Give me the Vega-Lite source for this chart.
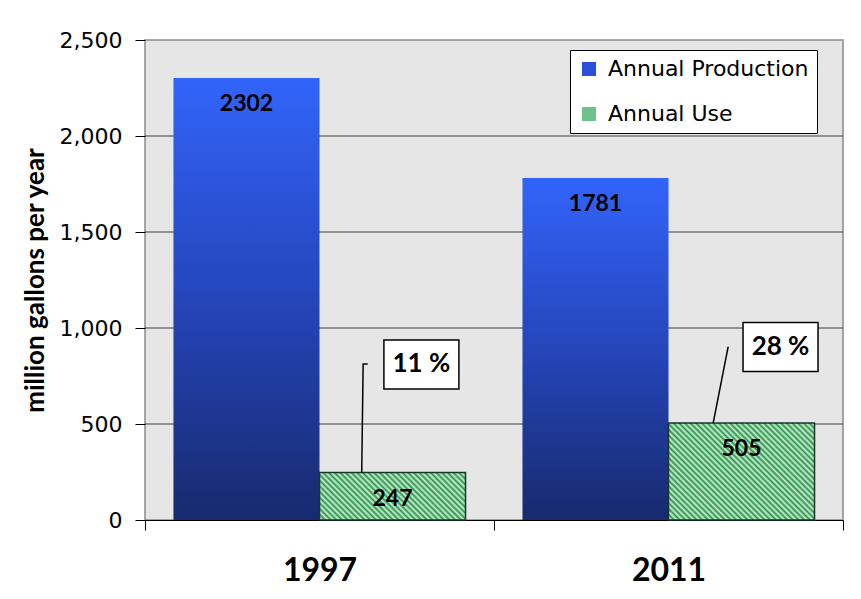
{
  "$schema": "https://vega.github.io/schema/vega-lite/v6.json",
  "width": 698,
  "height": 480,
  "autosize": "none",
  "padding": {"left": 145, "top": 40, "right": 18, "bottom": 79},
  "background": "white",
  "config": {
    "view": {"fill": "#e6e6e6", "stroke": "#8c8c8c", "strokeWidth": 1.5},
    "axisY": {"labelFont": "DejaVu Sans", "labelFontSize": 22, "labelColor": "black", "labelPadding": 13, "tickColor": "black", "tickSize": 10, "domain": false, "grid": false, "titleFont": "Lato", "titleFontSize": 26, "titleFontWeight": "bold", "titleColor": "black", "titlePadding": 11}
  },
  "datasets": {
    "bars": [
      {"year": "1997", "series": "Annual Production", "value": 2302},
      {"year": "1997", "series": "Annual Use", "value": 247},
      {"year": "2011", "series": "Annual Production", "value": 1781},
      {"year": "2011", "series": "Annual Use", "value": 505}
    ],
    "gridlines": [
      {"value": 500}, {"value": 1000}, {"value": 1500}, {"value": 2000}
    ],
    "ann": [
      {"ax": 0.792, "value": 810, "label": "11 %"},
      {"ax": 1.821, "value": 901, "label": "28 %"}
    ],
    "lead": [
      {"id": "a", "k": 0, "ax": 0.621, "value": 247},
      {"id": "a", "k": 1, "ax": 0.625, "value": 812},
      {"id": "a", "k": 2, "ax": 0.638, "value": 812},
      {"id": "b", "k": 0, "ax": 1.628, "value": 505},
      {"id": "b", "k": 1, "ax": 1.671, "value": 903}
    ]
  },
  "layer": [
    {
      "data": {"name": "gridlines"},
      "mark": {"type": "rule", "color": "#3a3a3a", "strokeWidth": 1},
      "encoding": {
        "x": {"datum": 0, "type": "quantitative", "scale": {"domain": [0, 2], "nice": false, "zero": false}, "axis": null},
        "x2": {"datum": 2},
        "y": {"field": "value", "type": "quantitative", "title": "million gallons per year",
          "scale": {"domain": [0, 2500], "nice": false},
          "axis": {"values": [0, 500, 1000, 1500, 2000, 2500], "format": ",d"}}
      }
    },
    {
      "data": {"name": "bars"},
      "encoding": {
        "x": {"field": "year", "type": "nominal", "title": null,
          "scale": {"paddingInner": 0, "paddingOuter": 0},
          "axis": {"labelFont": "Lato", "labelFontSize": 32, "labelFontWeight": "bold", "labelColor": "black", "labelAngle": 0, "labelPadding": 40, "labelBaseline": "middle", "tickBand": "extent", "tickSize": 10, "tickColor": "black", "domainColor": "black", "domainWidth": 1, "grid": false}},
        "xOffset": {"field": "series", "type": "nominal", "scale": {"domain": ["Annual Production", "Annual Use"], "paddingInner": 0, "paddingOuter": 0.195}},
        "y": {"field": "value", "type": "quantitative", "title": "million gallons per year",
          "scale": {"domain": [0, 2500], "nice": false},
          "axis": {"values": [0, 500, 1000, 1500, 2000, 2500], "format": ",d"}}
      },
      "layer": [
        {
          "mark": {"type": "bar"},
          "encoding": {
            "fill": {
              "condition": [
                {"test": "datum.series === 'Annual Production'", "value": {"gradient": "linear", "x1": 0, "y1": 0, "x2": 0, "y2": 1, "stops": [{"offset": 0, "color": "#3264fa"}, {"offset": 0.5, "color": "#2545ba"}, {"offset": 1, "color": "#172a6e"}]}},
                {"test": "datum.year === '1997'", "value": {"gradient": "linear", "x1": 0, "y1": 1, "x2": 1.578, "y2": 0.488, "stops": [
{"offset":0,"color":"#2e8b57"},{"offset":0.0111,"color":"#c8f8c8"},{"offset":0.0222,"color":"#2e8b57"},{"offset":0.0333,"color":"#c8f8c8"},{"offset":0.0444,"color":"#2e8b57"},{"offset":0.0556,"color":"#c8f8c8"},{"offset":0.0667,"color":"#2e8b57"},{"offset":0.0778,"color":"#c8f8c8"},{"offset":0.0889,"color":"#2e8b57"},{"offset":0.1,"color":"#c8f8c8"},
{"offset":0.1111,"color":"#2e8b57"},{"offset":0.1222,"color":"#c8f8c8"},{"offset":0.1333,"color":"#2e8b57"},{"offset":0.1444,"color":"#c8f8c8"},{"offset":0.1556,"color":"#2e8b57"},{"offset":0.1667,"color":"#c8f8c8"},{"offset":0.1778,"color":"#2e8b57"},{"offset":0.1889,"color":"#c8f8c8"},{"offset":0.2,"color":"#2e8b57"},{"offset":0.2111,"color":"#c8f8c8"},
{"offset":0.2222,"color":"#2e8b57"},{"offset":0.2333,"color":"#c8f8c8"},{"offset":0.2444,"color":"#2e8b57"},{"offset":0.2556,"color":"#c8f8c8"},{"offset":0.2667,"color":"#2e8b57"},{"offset":0.2778,"color":"#c8f8c8"},{"offset":0.2889,"color":"#2e8b57"},{"offset":0.3,"color":"#c8f8c8"},{"offset":0.3111,"color":"#2e8b57"},{"offset":0.3222,"color":"#c8f8c8"},
{"offset":0.3333,"color":"#2e8b57"},{"offset":0.3444,"color":"#c8f8c8"},{"offset":0.3556,"color":"#2e8b57"},{"offset":0.3667,"color":"#c8f8c8"},{"offset":0.3778,"color":"#2e8b57"},{"offset":0.3889,"color":"#c8f8c8"},{"offset":0.4,"color":"#2e8b57"},{"offset":0.4111,"color":"#c8f8c8"},{"offset":0.4222,"color":"#2e8b57"},{"offset":0.4333,"color":"#c8f8c8"},
{"offset":0.4444,"color":"#2e8b57"},{"offset":0.4556,"color":"#c8f8c8"},{"offset":0.4667,"color":"#2e8b57"},{"offset":0.4778,"color":"#c8f8c8"},{"offset":0.4889,"color":"#2e8b57"},{"offset":0.5,"color":"#c8f8c8"},{"offset":0.5111,"color":"#2e8b57"},{"offset":0.5222,"color":"#c8f8c8"},{"offset":0.5333,"color":"#2e8b57"},{"offset":0.5444,"color":"#c8f8c8"},
{"offset":0.5556,"color":"#2e8b57"},{"offset":0.5667,"color":"#c8f8c8"},{"offset":0.5778,"color":"#2e8b57"},{"offset":0.5889,"color":"#c8f8c8"},{"offset":0.6,"color":"#2e8b57"},{"offset":0.6111,"color":"#c8f8c8"},{"offset":0.6222,"color":"#2e8b57"},{"offset":0.6333,"color":"#c8f8c8"},{"offset":0.6444,"color":"#2e8b57"},{"offset":0.6556,"color":"#c8f8c8"},
{"offset":0.6667,"color":"#2e8b57"},{"offset":0.6778,"color":"#c8f8c8"},{"offset":0.6889,"color":"#2e8b57"},{"offset":0.7,"color":"#c8f8c8"},{"offset":0.7111,"color":"#2e8b57"},{"offset":0.7222,"color":"#c8f8c8"},{"offset":0.7333,"color":"#2e8b57"},{"offset":0.7444,"color":"#c8f8c8"},{"offset":0.7556,"color":"#2e8b57"},{"offset":0.7667,"color":"#c8f8c8"},
{"offset":0.7778,"color":"#2e8b57"},{"offset":0.7889,"color":"#c8f8c8"},{"offset":0.8,"color":"#2e8b57"}
                ]}}
              ],
              "value": {"gradient": "linear", "x1": 0, "y1": 1, "x2": 1.21, "y2": 0.196, "stops": [
{"offset":0,"color":"#2e8b57"},{"offset":0.0111,"color":"#c8f8c8"},{"offset":0.0222,"color":"#2e8b57"},{"offset":0.0333,"color":"#c8f8c8"},{"offset":0.0444,"color":"#2e8b57"},{"offset":0.0556,"color":"#c8f8c8"},{"offset":0.0667,"color":"#2e8b57"},{"offset":0.0778,"color":"#c8f8c8"},{"offset":0.0889,"color":"#2e8b57"},{"offset":0.1,"color":"#c8f8c8"},
{"offset":0.1111,"color":"#2e8b57"},{"offset":0.1222,"color":"#c8f8c8"},{"offset":0.1333,"color":"#2e8b57"},{"offset":0.1444,"color":"#c8f8c8"},{"offset":0.1556,"color":"#2e8b57"},{"offset":0.1667,"color":"#c8f8c8"},{"offset":0.1778,"color":"#2e8b57"},{"offset":0.1889,"color":"#c8f8c8"},{"offset":0.2,"color":"#2e8b57"},{"offset":0.2111,"color":"#c8f8c8"},
{"offset":0.2222,"color":"#2e8b57"},{"offset":0.2333,"color":"#c8f8c8"},{"offset":0.2444,"color":"#2e8b57"},{"offset":0.2556,"color":"#c8f8c8"},{"offset":0.2667,"color":"#2e8b57"},{"offset":0.2778,"color":"#c8f8c8"},{"offset":0.2889,"color":"#2e8b57"},{"offset":0.3,"color":"#c8f8c8"},{"offset":0.3111,"color":"#2e8b57"},{"offset":0.3222,"color":"#c8f8c8"},
{"offset":0.3333,"color":"#2e8b57"},{"offset":0.3444,"color":"#c8f8c8"},{"offset":0.3556,"color":"#2e8b57"},{"offset":0.3667,"color":"#c8f8c8"},{"offset":0.3778,"color":"#2e8b57"},{"offset":0.3889,"color":"#c8f8c8"},{"offset":0.4,"color":"#2e8b57"},{"offset":0.4111,"color":"#c8f8c8"},{"offset":0.4222,"color":"#2e8b57"},{"offset":0.4333,"color":"#c8f8c8"},
{"offset":0.4444,"color":"#2e8b57"},{"offset":0.4556,"color":"#c8f8c8"},{"offset":0.4667,"color":"#2e8b57"},{"offset":0.4778,"color":"#c8f8c8"},{"offset":0.4889,"color":"#2e8b57"},{"offset":0.5,"color":"#c8f8c8"},{"offset":0.5111,"color":"#2e8b57"},{"offset":0.5222,"color":"#c8f8c8"},{"offset":0.5333,"color":"#2e8b57"},{"offset":0.5444,"color":"#c8f8c8"},
{"offset":0.5556,"color":"#2e8b57"},{"offset":0.5667,"color":"#c8f8c8"},{"offset":0.5778,"color":"#2e8b57"},{"offset":0.5889,"color":"#c8f8c8"},{"offset":0.6,"color":"#2e8b57"},{"offset":0.6111,"color":"#c8f8c8"},{"offset":0.6222,"color":"#2e8b57"},{"offset":0.6333,"color":"#c8f8c8"},{"offset":0.6444,"color":"#2e8b57"},{"offset":0.6556,"color":"#c8f8c8"},
{"offset":0.6667,"color":"#2e8b57"},{"offset":0.6778,"color":"#c8f8c8"},{"offset":0.6889,"color":"#2e8b57"},{"offset":0.7,"color":"#c8f8c8"},{"offset":0.7111,"color":"#2e8b57"},{"offset":0.7222,"color":"#c8f8c8"},{"offset":0.7333,"color":"#2e8b57"},{"offset":0.7444,"color":"#c8f8c8"},{"offset":0.7556,"color":"#2e8b57"},{"offset":0.7667,"color":"#c8f8c8"},
{"offset":0.7778,"color":"#2e8b57"},{"offset":0.7889,"color":"#c8f8c8"},{"offset":0.8,"color":"#2e8b57"},{"offset":0.8111,"color":"#c8f8c8"},{"offset":0.8222,"color":"#2e8b57"},{"offset":0.8333,"color":"#c8f8c8"},{"offset":0.8444,"color":"#2e8b57"},{"offset":0.8556,"color":"#c8f8c8"},{"offset":0.8667,"color":"#2e8b57"},{"offset":0.8778,"color":"#c8f8c8"},
{"offset":0.8889,"color":"#2e8b57"},{"offset":0.9,"color":"#c8f8c8"},{"offset":0.9111,"color":"#2e8b57"},{"offset":0.9222,"color":"#c8f8c8"},{"offset":0.9333,"color":"#2e8b57"},{"offset":0.9444,"color":"#c8f8c8"},{"offset":0.9556,"color":"#2e8b57"},{"offset":0.9667,"color":"#c8f8c8"},{"offset":0.9778,"color":"#2e8b57"},{"offset":0.9889,"color":"#c8f8c8"},{"offset":1,"color":"#2e8b57"}
              ]}
            },
            "stroke": {"condition": {"test": "datum.series === 'Annual Production'", "value": "transparent"}, "value": "#1d3527"},
            "strokeWidth": {"condition": {"test": "datum.series === 'Annual Production'", "value": 0}, "value": 1.5}
          }
        },
        {
          "mark": {"type": "bar", "opacity": 0},
          "encoding": {
            "color": {"field": "series", "type": "nominal",
              "scale": {"domain": ["Annual Production", "Annual Use"], "range": ["#2a4fd8", "#6cc38a"]},
              "legend": {"title": null, "orient": "none", "legendX": 425, "legendY": 10, "fillColor": "white", "strokeColor": "black", "padding": 8,
                "symbolType": "square", "symbolSize": 196, "symbolOpacity": 1, "symbolStrokeWidth": 0, "labelFont": "DejaVu Sans", "labelFontSize": 22, "labelColor": "black", "labelOffset": 8, "labelLimit": 400, "rowPadding": 23}
            }
          }
        },
        {
          "mark": {"type": "text", "font": "Lato", "fontWeight": "bold", "fontSize": 23, "color": "black", "baseline": "middle", "dy": 26},
          "encoding": {"text": {"field": "value", "type": "quantitative", "format": "d"}}
        }
      ]
    },
    {
      "encoding": {
        "x": {"field": "ax", "type": "quantitative", "scale": {"domain": [0, 2], "nice": false, "zero": false}, "axis": null},
        "y": {"field": "value", "type": "quantitative", "title": "million gallons per year",
          "scale": {"domain": [0, 2500], "nice": false},
          "axis": {"values": [0, 500, 1000, 1500, 2000, 2500], "format": ",d"}}
      },
      "layer": [
        {
          "data": {"name": "lead"},
          "mark": {"type": "line", "color": "black", "strokeWidth": 1.5},
          "encoding": {"detail": {"field": "id"}, "order": {"field": "k", "type": "quantitative"}}
        },
        {
          "data": {"name": "ann"},
          "mark": {"type": "point", "shape": "M-1.5,-0.98H1.5V0.98H-1.5Z", "size": 2500, "filled": true, "fill": "white", "stroke": "black", "strokeWidth": 1.5, "opacity": 1}
        },
        {
          "data": {"name": "ann"},
          "mark": {"type": "text", "font": "Lato", "fontWeight": "bold", "fontSize": 26, "color": "black", "baseline": "middle"},
          "encoding": {"text": {"field": "label"}}
        }
      ]
    }
  ],
  "resolve": {"scale": {"x": "independent"}}
}
